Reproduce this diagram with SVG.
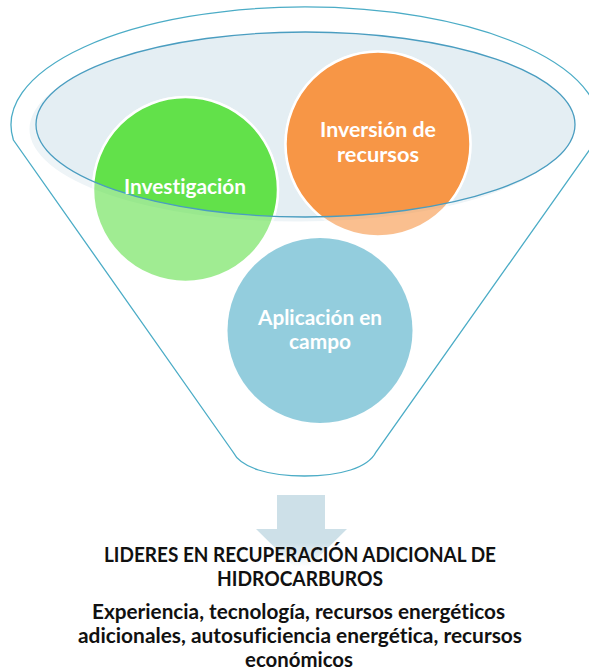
<svg xmlns="http://www.w3.org/2000/svg" width="589" height="670" viewBox="0 0 589 670">
<style>
.funnel{fill:none;stroke:#4BACC6;stroke-width:1.3}
.rim{stroke:#4A9DC0;stroke-width:1.3}
.ctext{font-family:Lato,"Open Sans","Liberation Sans",sans-serif;font-weight:700;font-size:21px;fill:#ffffff;text-anchor:middle;font-variant-ligatures:none}
.btext{font-family:Lato,"Open Sans","Liberation Sans",sans-serif;font-weight:700;font-size:20px;fill:#111111;text-anchor:middle;font-variant-ligatures:none}
.ring{stroke:#ffffff;stroke-width:2.5}
</style>
<defs>
<clipPath id="rimClip"><ellipse cx="305.5" cy="124.5" rx="269.5" ry="92.5"/></clipPath>
<linearGradient id="arrowGrad" gradientUnits="userSpaceOnUse" x1="0" y1="495" x2="0" y2="575">
<stop offset="0" stop-color="#CDE0E8"/>
<stop offset="0.6" stop-color="#CDE0E8"/>
<stop offset="0.9" stop-color="#ffffff"/>
</linearGradient>
</defs>
<rect width="589" height="670" fill="#ffffff"/>
<g id="funnel">
<path class="funnel" d="M13.4,140 A294,118 0 1 1 596.6,140 L376,452 C368,468 340,476 304.5,476 C269,476 241,468 233,452 Z"/>
<ellipse cx="299" cy="129" rx="269.5" ry="92.5" fill="#EEF4F7"/>
<ellipse cx="305.5" cy="124.5" rx="269.5" ry="92.5" fill="#E4EEF3"/>
</g>
<g id="circles-faded" opacity="0.6">
<circle class="ring" cx="185.5" cy="189.5" r="92.5" fill="#62E14A"/>
<circle class="ring" cx="378" cy="144" r="92.5" fill="#F79646"/>
</g>
<g id="circles-inside" clip-path="url(#rimClip)">
<circle class="ring" cx="185.5" cy="189.5" r="92.5" fill="#62E14A"/>
<circle class="ring" cx="378" cy="144" r="92.5" fill="#F79646"/>
</g>
<ellipse class="rim" cx="305.5" cy="124.5" rx="269.5" ry="92.5" fill="none"/>
<g id="node-investigacion">
<text class="ctext" x="185" y="194" textLength="122" lengthAdjust="spacingAndGlyphs">Investigación</text>
</g>
<g id="node-inversion">
<text class="ctext" x="378" y="137" textLength="116" lengthAdjust="spacingAndGlyphs">Inversión de</text>
<text class="ctext" x="378" y="162" textLength="82" lengthAdjust="spacingAndGlyphs">recursos</text>
</g>
<g id="node-aplicacion">
<circle cx="320" cy="330.5" r="92.5" fill="#4BACC6" opacity="0.6"/>
<text class="ctext" x="320" y="325" textLength="124" lengthAdjust="spacingAndGlyphs">Aplicación en</text>
<text class="ctext" x="320" y="349" textLength="62" lengthAdjust="spacingAndGlyphs">campo</text>
</g>
<g id="connectors">
<path d="M277,495 H325 V529 H347 L301.5,574 L256,529 H277 Z" fill="url(#arrowGrad)"/>
</g>
<g id="node-result">
<text class="btext" x="300" y="562" textLength="392" lengthAdjust="spacingAndGlyphs">LIDERES EN RECUPERACIÓN ADICIONAL DE</text>
<text class="btext" x="300" y="586" textLength="166" lengthAdjust="spacingAndGlyphs">HIDROCARBUROS</text>
<text class="btext" x="298.5" y="619" textLength="413" lengthAdjust="spacingAndGlyphs">Experiencia, tecnología, recursos energéticos</text>
<text class="btext" x="300" y="643" textLength="444" lengthAdjust="spacingAndGlyphs">adicionales, autosuficiencia energética, recursos</text>
<text class="btext" x="299" y="667" textLength="108" lengthAdjust="spacingAndGlyphs">económicos</text>
</g>
</svg>
